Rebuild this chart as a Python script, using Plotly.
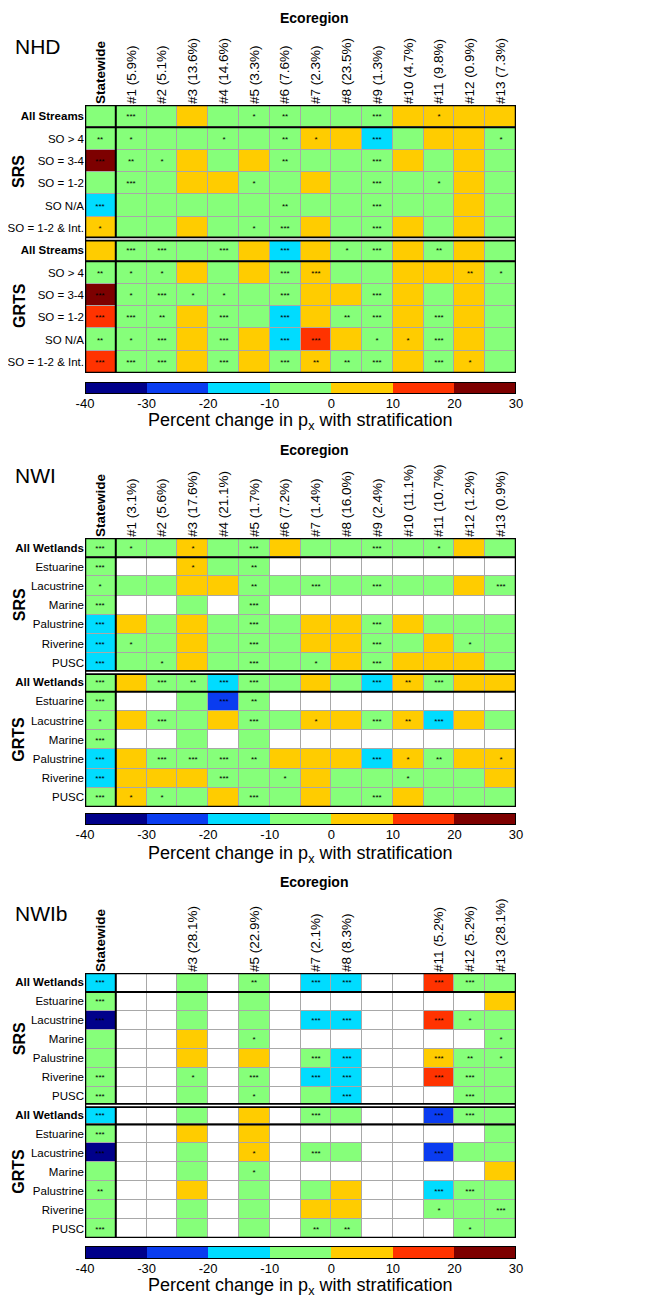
import plotly.graph_objects as go

# ---------------- data ----------------
statewide = "Statewide"
eco_ids = ["#1", "#2", "#3", "#4", "#5", "#6", "#7", "#8", "#9", "#10", "#11", "#12", "#13"]
nhd_pct = ["5.9", "5.1", "13.6", "14.6", "3.3", "7.6", "2.3", "23.5", "1.3", "4.7", "9.8", "0.9", "7.3"]
nwi_pct = ["3.1", "5.6", "17.6", "21.1", "1.7", "7.2", "1.4", "16.0", "2.4", "11.1", "10.7", "1.2", "0.9"]
nwib_pct = [None, None, "28.1", None, "22.9", None, "2.1", "8.3", None, None, "5.2", "5.2", "28.1"]

nhd_rows = ["All Streams", "SO > 4", "SO = 3-4", "SO = 1-2", "SO N/A", "SO = 1-2 & Int."]
nwi_rows = ["All Wetlands", "Estuarine", "Lacustrine", "Marine", "Palustrine", "Riverine", "PUSC"]
designs = ["SRS", "GRTS"]

# percent change estimates (bin mid values read from colours); None = no data
nhd_vals = [
    [-5, -5, -5, 5, -5, -5, -5, -5, -5, -5, 5, 5, 5, 5],
    [-5, -5, -5, -5, -5, -5, -5, 5, 5, -15, -5, 5, 5, -5],
    [25, -5, -5, 5, -5, 5, -5, -5, -5, -5, 5, -5, 5, -5],
    [-5, -5, -5, 5, 5, -5, -5, 5, -5, -5, -5, -5, 5, -5],
    [-15, -5, -5, -5, -5, -5, -5, -5, -5, -5, -5, -5, 5, -5],
    [5, -5, -5, 5, -5, -5, -5, 5, -5, -5, 5, -5, 5, -5],
    [5, -5, -5, -5, -5, 5, -15, 5, -5, -5, 5, -5, 5, -5],
    [-5, -5, -5, 5, -5, 5, -5, 5, -5, -5, 5, 5, 5, -5],
    [25, -5, -5, -5, -5, -5, -5, 5, 5, -5, 5, -5, 5, -5],
    [15, -5, -5, 5, -5, -5, -15, 5, -5, -5, 5, -5, 5, -5],
    [-5, -5, -5, 5, -5, 5, -15, 15, 5, -5, 5, -5, 5, -5],
    [15, -5, -5, 5, -5, 5, -5, 5, -5, -5, 5, -5, 5, -5],
]
nhd_sig = [
    ["", "***", "", "", "", "*", "**", "", "", "***", "", "*", "", ""],
    ["**", "*", "", "", "*", "", "**", "*", "", "***", "", "", "", "*"],
    ["***", "**", "*", "", "", "", "**", "", "", "***", "", "", "", ""],
    ["", "***", "", "", "", "*", "", "", "", "***", "", "*", "", ""],
    ["***", "", "", "", "", "", "**", "", "", "***", "", "", "", ""],
    ["*", "", "", "", "", "*", "***", "", "", "***", "", "", "", ""],
    ["", "***", "***", "", "***", "", "***", "", "*", "***", "", "**", "", ""],
    ["**", "*", "*", "", "", "", "***", "***", "", "", "", "", "**", "*"],
    ["***", "*", "***", "*", "*", "", "***", "", "", "***", "", "", "", ""],
    ["***", "***", "**", "", "***", "", "***", "", "**", "***", "", "***", "", ""],
    ["**", "*", "***", "", "***", "", "***", "***", "", "*", "*", "***", "", ""],
    ["***", "***", "***", "", "***", "", "***", "**", "**", "***", "", "***", "*", ""],
]

N = None
nwi_vals = [
    [-5, -5, -5, 5, -5, -5, 5, -5, -5, -5, -5, -5, 5, -5],
    [-5, N, N, 5, -5, -5, N, N, N, N, N, N, N, N],
    [-5, -5, -5, 5, 5, -5, -5, -5, -5, -5, -5, -5, 5, -5],
    [-5, N, N, -5, N, -5, N, N, N, N, N, N, N, N],
    [-15, 5, -5, 5, -5, -5, -5, 5, 5, -5, 5, -5, -5, -5],
    [-15, -5, -5, 5, -5, -5, -5, 5, 5, -5, -5, 5, -5, -5],
    [-15, -5, -5, 5, -5, -5, -5, -5, 5, -5, 5, 5, 5, -5],
    [-5, 5, -5, -5, -15, -5, -5, 5, -5, -15, 5, -5, 5, 5],
    [-5, N, N, -5, -25, -5, N, N, N, N, N, N, N, N],
    [-5, 5, -5, -5, 5, -5, -5, 5, 5, -5, 5, -15, 5, -5],
    [-5, N, N, -5, N, -5, N, N, N, N, N, N, N, N],
    [-15, 5, -5, -5, -5, -5, 5, 5, 5, -15, 5, -5, 5, 5],
    [-15, 5, 5, 5, -5, -5, -5, 5, -5, -5, -5, -5, -5, 5],
    [-5, 5, -5, -5, 5, -5, -5, 5, -5, -5, 5, -5, -5, -5],
]
nwi_sig = [
    ["***", "*", "", "*", "", "***", "", "", "", "***", "", "*", "", ""],
    ["***", "", "", "*", "", "**", "", "", "", "", "", "", "", ""],
    ["*", "", "", "", "", "**", "", "***", "", "***", "", "", "", "***"],
    ["***", "", "", "", "", "***", "", "", "", "", "", "", "", ""],
    ["***", "", "", "", "", "***", "", "", "", "***", "", "", "", ""],
    ["***", "*", "", "", "", "***", "", "", "", "***", "", "", "*", ""],
    ["***", "", "*", "", "", "***", "", "*", "", "***", "", "", "", ""],
    ["***", "", "***", "**", "***", "***", "", "", "", "***", "**", "***", "", ""],
    ["***", "", "", "", "***", "**", "", "", "", "", "", "", "", ""],
    ["*", "", "***", "", "", "***", "", "*", "", "***", "**", "***", "", ""],
    ["***", "", "", "", "", "", "", "", "", "", "", "", "", ""],
    ["***", "", "***", "***", "***", "**", "", "", "", "***", "*", "**", "", "*"],
    ["***", "", "", "", "***", "", "*", "", "", "", "*", "", "", ""],
    ["***", "*", "*", "", "", "***", "", "", "", "***", "", "", "", ""],
]

nwib_vals = [
    [-15, N, N, -5, N, -5, N, -15, -15, N, N, 15, -5, -5],
    [-5, N, N, -5, N, -5, N, N, N, N, N, N, N, 5],
    [-35, N, N, -5, N, -5, N, -15, -15, N, N, 15, -5, -5],
    [-5, N, N, 5, N, -5, N, N, N, N, N, N, N, -5],
    [-5, N, N, 5, N, 5, N, -5, -15, N, N, 5, -5, -5],
    [-5, N, N, -5, N, -5, N, -15, -15, N, N, 15, -5, -5],
    [-5, N, N, -5, N, -5, N, -5, -15, N, N, N, -5, -5],
    [-15, N, N, -5, N, 5, N, -5, -5, N, N, -25, -5, -5],
    [-5, N, N, 5, N, 5, N, N, N, N, N, N, N, -5],
    [-35, N, N, -5, N, 5, N, -5, -5, N, N, -25, -5, -5],
    [-5, N, N, -5, N, -5, N, N, N, N, N, N, N, 5],
    [-5, N, N, 5, N, -5, N, -5, 5, N, N, -15, -5, -5],
    [-5, N, N, -5, N, -5, N, 5, 5, N, N, -5, -5, -5],
    [-5, N, N, -5, N, -5, N, -5, -5, N, N, N, -5, -5],
]
nwib_sig = [
    ["***", "", "", "", "", "**", "", "***", "***", "", "", "***", "***", ""],
    ["***", "", "", "", "", "", "", "", "", "", "", "", "", ""],
    ["***", "", "", "", "", "", "", "***", "***", "", "", "***", "*", ""],
    ["", "", "", "", "", "*", "", "", "", "", "", "", "", "*"],
    ["", "", "", "", "", "", "", "***", "***", "", "", "***", "**", "*"],
    ["***", "", "", "*", "", "***", "", "***", "***", "", "", "***", "***", ""],
    ["***", "", "", "", "", "*", "", "", "***", "", "", "", "***", ""],
    ["***", "", "", "", "", "", "", "***", "", "", "", "***", "***", ""],
    ["***", "", "", "", "", "", "", "", "", "", "", "", "", ""],
    ["***", "", "", "", "", "*", "", "***", "", "", "", "***", "", ""],
    ["", "", "", "", "", "*", "", "", "", "", "", "", "", ""],
    ["**", "", "", "", "", "", "", "", "", "", "", "***", "***", ""],
    ["", "", "", "", "", "", "", "", "", "", "", "*", "", "***"],
    ["***", "", "", "", "", "", "", "**", "**", "", "", "", "*", ""],
]

cb_edges = [-40, -30, -20, -10, 0, 10, 20, 30]
cb_mids = [-35, -25, -15, -5, 5, 15, 25]
panel_names = ["NHD", "NWI", "NWIb"]

# ---------------- styling ----------------
FONT = "Liberation Sans, Arial, sans-serif"
bin_colors = ["#00008a", "#0a3cf0", "#00dcff", "#86ff7a", "#ffcc00", "#ff3300", "#7d0000"]
cscale = []
for i, c in enumerate(bin_colors):
    cscale.append([i / 7, c])
    cscale.append([(i + 1) / 7, c])

OFF = 8                      # page body margin of the browser
W, H = 645 - OFF, 1300 - OFF
X0, X1 = 85, 516


def px_(x):
    return (x - OFF) / W


def py(y):
    return 1 - (y - OFF) / H


panels = [
    dict(vals=nhd_vals, sig=nhd_sig, rows=nhd_rows, pct=nhd_pct, grid=(105, 373), cb=(382, 394),
         ttl=422, eco=18, lab=46),
    dict(vals=nwi_vals, sig=nwi_sig, rows=nwi_rows, pct=nwi_pct, grid=(538, 807), cb=(813, 825),
         ttl=854, eco=450, lab=476),
    dict(vals=nwib_vals, sig=nwib_sig, rows=nwi_rows, pct=nwib_pct, grid=(973, 1238), cb=(1246, 1259),
         ttl=1286, eco=882, lab=913),
]

fig = go.Figure()
layout = dict(width=W, height=H, margin=dict(l=0, r=0, t=0, b=0, autoexpand=False),
              paper_bgcolor="white", plot_bgcolor="#a8a8a8", showlegend=False,
              font=dict(family=FONT, color="black"))
shapes = []
annotations = []

for k, p in enumerate(panels):
    ax = k + 1
    cbax = k + 4
    xs = "" if ax == 1 else str(ax)
    vals = p["vals"]
    nrow = len(vals)
    half = nrow // 2
    rowlab = []
    for d in designs:
        for r in p["rows"]:
            rowlab.append("<b>%s</b>" % r if r.startswith("All") else r)
    ncol = 1 + len(eco_ids)
    xi = list(range(ncol))
    yi = list(range(nrow))
    # only columns that carry a label get a tick
    tick_pos = [0]
    tick_txt = ["<b>%s</b>" % statewide]
    for c, (e, q) in enumerate(zip(eco_ids, p["pct"]), start=1):
        if q is not None:
            tick_pos.append(c)
            tick_txt.append("%s (%s%%)" % (e, q))
    mask = [[1 if v is None else None for v in row] for row in vals]

    fig.add_trace(go.Heatmap(z=mask, x=xi, y=yi, colorscale=[[0, "white"], [1, "white"]],
                             showscale=False, xgap=1, ygap=1, hoverinfo="skip",
                             xaxis="x" + xs, yaxis="y" + xs))
    fig.add_trace(go.Heatmap(z=vals, x=xi, y=yi, text=p["sig"], texttemplate="%{text}",
                             textfont=dict(size=8, color="black", family=FONT),
                             colorscale=cscale, zmin=-40, zmax=30, showscale=False,
                             xgap=1, ygap=1, hoverinfo="skip",
                             xaxis="x" + xs, yaxis="y" + xs))
    layout["xaxis" + xs] = dict(domain=[px_(X0), px_(X1)], range=[-0.5, ncol - 0.5], side="top",
                                tickmode="array", tickvals=tick_pos, ticktext=tick_txt, tickangle=-90,
                                tickfont=dict(size=13.5), showgrid=False, zeroline=False,
                                ticks="", anchor="y" + xs, fixedrange=True, automargin=False)
    layout["yaxis" + xs] = dict(domain=[py(p["grid"][1]), py(p["grid"][0])],
                                range=[nrow - 0.5, -0.5], tickmode="array", tickvals=yi,
                                ticktext=rowlab, tickfont=dict(size=11.5), showgrid=False,
                                zeroline=False, ticks="", anchor="x" + xs, fixedrange=True,
                                automargin=False)

    xr, yr = "x" + xs, "y" + xs
    blk = dict(color="black", width=2)
    shapes.append(dict(type="line", xref=xr, yref=yr, x0=0.5, x1=0.5, y0=-0.5, y1=nrow - 0.5, line=blk))
    shapes.append(dict(type="line", xref=xr, yref=yr, x0=-0.5, x1=ncol - 0.5, y0=0.5, y1=0.5, line=blk))
    shapes.append(dict(type="line", xref=xr, yref=yr, x0=-0.5, x1=ncol - 0.5, y0=half + 0.5,
                       y1=half + 0.5, line=blk))
    shapes.append(dict(type="line", xref=xr, yref=yr, x0=-0.5, x1=ncol - 0.5, y0=half - 0.5,
                       y1=half - 0.5, line=dict(color="black", width=5)))
    shapes.append(dict(type="line", xref=xr, yref=yr, x0=-0.5, x1=ncol - 0.5, y0=half - 0.5,
                       y1=half - 0.5, line=dict(color="white", width=1.5)))
    shapes.append(dict(type="rect", xref=xr, yref=yr, x0=-0.5, x1=ncol - 0.5, y0=-0.5,
                       y1=nrow - 0.5, line=dict(color="black", width=2.5)))

    # design labels
    for j, d in enumerate(designs):
        annotations.append(dict(text="<b>%s</b>" % d, xref="paper", yref=yr, x=px_(19),
                                y=j * half + (half - 1) / 2, showarrow=False, textangle=-90,
                                font=dict(size=16), xanchor="center", yanchor="middle"))
    annotations.append(dict(text="<b>Ecoregion</b>", xref="paper", yref="paper", x=px_(314),
                            y=py(p["eco"]), showarrow=False, font=dict(size=14),
                            xanchor="center", yanchor="middle"))
    annotations.append(dict(text=panel_names[k], xref="paper", yref="paper", x=px_(13),
                            y=py(p["lab"]), showarrow=False, font=dict(size=21),
                            xanchor="left", yanchor="middle"))
    annotations.append(dict(text="Percent change in p<sub>x</sub> with stratification", xref="paper",
                            yref="paper", x=px_(300), y=py(p["ttl"]), showarrow=False,
                            font=dict(size=18), xanchor="center", yanchor="middle"))

    # colour bar as its own heatmap strip
    cs = str(cbax)
    fig.add_trace(go.Heatmap(z=[cb_mids], x=cb_edges, y=[0], colorscale=cscale, zmin=-40, zmax=30,
                             showscale=False, hoverinfo="skip", xaxis="x" + cs, yaxis="y" + cs))
    layout["xaxis" + cs] = dict(domain=[px_(X0), px_(X1)], range=[-40, 30], tickmode="array",
                                tickvals=cb_edges, ticktext=[str(v) for v in cb_edges], ticks="",
                                tickfont=dict(size=13), showgrid=False, zeroline=False,
                                anchor="y" + cs, fixedrange=True, automargin=False)
    layout["yaxis" + cs] = dict(domain=[py(p["cb"][1]), py(p["cb"][0])], range=[-0.5, 0.5],
                                showticklabels=False, showgrid=False, zeroline=False,
                                anchor="x" + cs, fixedrange=True, automargin=False)
    shapes.append(dict(type="rect", xref="x" + cs, yref="y" + cs, x0=-40, x1=30, y0=-0.5, y1=0.5,
                       line=dict(color="black", width=2)))

layout["shapes"] = shapes
layout["annotations"] = annotations
fig.update_layout(**layout)
fig.write_html("out.html")
